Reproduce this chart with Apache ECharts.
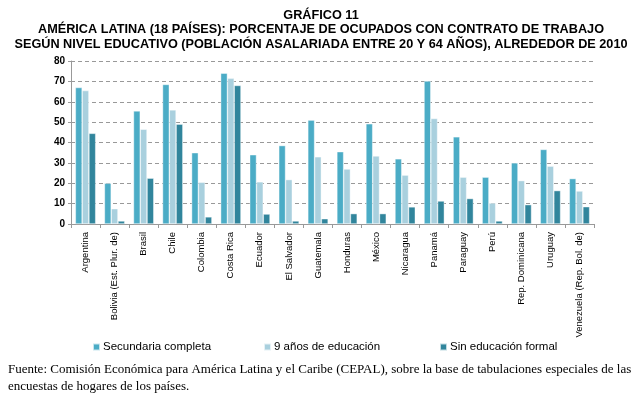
<!DOCTYPE html>
<html>
<head>
<meta charset="utf-8">
<script src="https://cdn.jsdelivr.net/npm/echarts@6/dist/echarts.min.js"></script>
<style>
  html, body { margin: 0; padding: 0; background: #fff; }
  #chart { width: 642px; height: 397px; }
</style>
</head>
<body>
<div id="chart"></div>
<script>
// ======================
// DATOS
// ======================
const paises = [
    "Argentina", "Bolivia (Est. Plur. de)", "Brasil", "Chile", "Colombia",
    "Costa Rica", "Ecuador", "El Salvador", "Guatemala", "Honduras",
    "México", "Nicaragua", "Panamá", "Paraguay", "Perú",
    "Rep. Dominicana", "Uruguay", "Venezuela (Rep. Bol. de)"
];
const secundaria = [67, 20, 55.5, 68.5, 35, 74, 34, 38.5, 51, 35.5, 49.2, 32, 70.2, 42.8, 23, 30, 36.6, 22.3];
const nueveAnios = [65.5, 7.5, 46.5, 56, 20.5, 71.5, 20.7, 21.8, 33, 27, 33.4, 24, 51.8, 23, 10.3, 21.3, 28.4, 16.2];
const sinEducacion = [44.5, 1.5, 22.5, 49, 3.5, 68, 4.9, 1.5, 2.6, 5.1, 5.1, 8.4, 11.3, 12.5, 1.5, 9.5, 16.4, 8.5];
const yTicks = [0, 10, 20, 30, 40, 50, 60, 70, 80];

const titulo = [
    "GRÁFICO 11",
    "AMÉRICA LATINA (18 PAÍSES): PORCENTAJE DE OCUPADOS CON CONTRATO DE TRABAJO",
    "SEGÚN NIVEL EDUCATIVO (POBLACIÓN ASALARIADA ENTRE 20 Y 64 AÑOS), ALREDEDOR DE 2010"
];
const fuente = [
    "Fuente: Comisión Económica para América Latina y el Caribe (CEPAL), sobre la base de tabulaciones especiales de las",
    "encuestas de hogares de los países."
];

const NOMBRES = ["Secundaria completa", "9 años de educación", "Sin educación formal"];
const COLORS = ["#4bacc6", "#a9d0de", "#31859c"];

const chart = echarts.init(document.getElementById("chart"));

const FONT = "Liberation Sans, Arial, sans-serif";
const SERIF = "'Liberation Serif', 'Times New Roman', serif";

function serie(name, data, color) {
    return {
        name: name,
        type: "bar",
        data: data,
        barGap: "0%",
        barCategoryGap: "30%",
        itemStyle: { color: color, borderColor: "rgba(255,255,255,0.7)", borderWidth: 0.6 },
        animation: false
    };
}

// textos de título y fuente
const textos = titulo.map((t, i) => ({
    type: "text",
    x: 321,
    y: 15 + i * 14.5,
    style: {
        text: t,
        font: "bold 12.7px " + FONT,
        fill: "#000",
        textAlign: "center",
        textVerticalAlign: "middle"
    }
})).concat(fuente.map((t, i) => ({
    type: "text",
    x: 8,
    y: 370 + i * 16.5,
    style: {
        text: t,
        font: "13px " + SERIF,
        fill: "#000",
        textVerticalAlign: "middle"
    }
})));

chart.setOption({
    backgroundColor: "#fff",
    textStyle: { fontFamily: FONT },
    grid: { left: 71, right: 48, top: 61, bottom: 173 },
    legend: [0, 1, 2].map(i => ({
        data: [NOMBRES[i]],
        left: [87, 258, 434][i],
        top: 336,
        itemWidth: 7,
        itemHeight: 7,
        itemGap: 4,
        icon: "rect",
        textStyle: { fontFamily: FONT, fontSize: 11.5, color: "#000", padding: [0, 0, 0, -2] }
    })),
    xAxis: {
        type: "category",
        data: paises,
        axisLine: { lineStyle: { color: "#999" } },
        axisTick: { show: true, lineStyle: { color: "#999" }, length: 4 },
        axisLabel: {
            rotate: 90,
            interval: 0,
            fontSize: 9.5,
            color: "#000",
            margin: 8
        }
    },
    yAxis: {
        type: "value",
        min: yTicks[0],
        max: yTicks[yTicks.length - 1],
        interval: 10,
        axisLine: { show: true, lineStyle: { color: "#999" } },
        axisTick: { show: true, lineStyle: { color: "#999" }, length: 3 },
        axisLabel: { fontSize: 10, fontWeight: "bold", color: "#000", margin: 6 },
        splitLine: { lineStyle: { color: "#999", type: [4, 3], width: 1 } }
    },
    graphic: textos,
    series: [
        serie(NOMBRES[0], secundaria, COLORS[0]),
        serie(NOMBRES[1], nueveAnios, COLORS[1]),
        serie(NOMBRES[2], sinEducacion, COLORS[2])
    ]
});

window.addEventListener("resize", () => chart.resize());
</script>
</body>
</html>
